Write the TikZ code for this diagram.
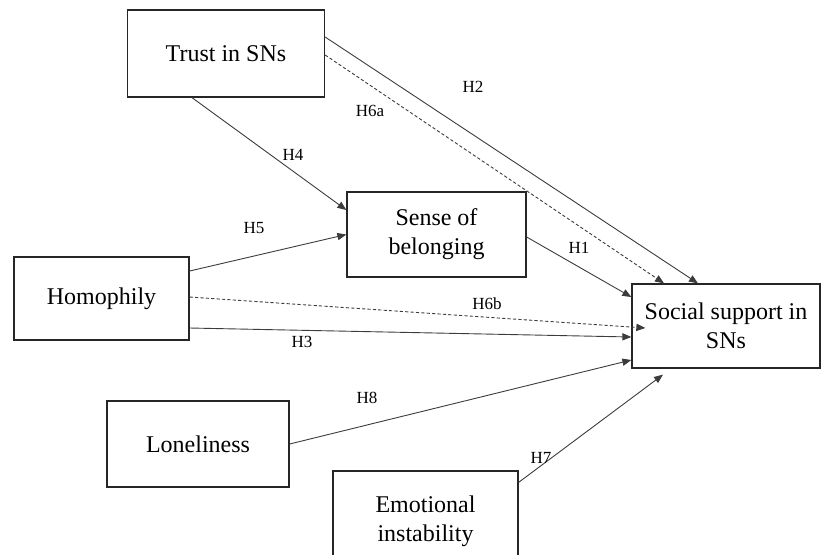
\documentclass[tikz,border=0pt]{standalone}
\usepackage{fontspec}
\setmainfont{Liberation Serif}
\usetikzlibrary{arrows.meta}
\definecolor{lineg}{RGB}{60,60,60}

\begin{document}
\begin{tikzpicture}[x=0.5pt, y=-0.5pt,
    var/.style={draw=black!85, line width=0.65pt, align=center, inner sep=0pt,
      font=\fontsize{12}{14.5}\selectfont},
    hyp/.style={-{Triangle[length=4.5pt,width=3.6pt]}, draw=lineg, line width=0.45pt},
    weak/.style={hyp, dash pattern=on 1.6pt off 1.1pt},
    lab/.style={font=\fontsize{8.5}{10}\selectfont, inner sep=0pt}]
  \useasboundingbox (0,0) rectangle (821,554);
  % constructs
  \node[var, minimum width=98.5pt, minimum height=43.5pt] (trust) at (226,53.5) {Trust in SNs};
  \node[var, minimum width=89.5pt, minimum height=42.5pt] (belong) at (436.5,234.5) {Sense of\\belonging};
  \node[var, minimum width=87.5pt, minimum height=41.5pt] (homo) at (101.5,298.5) {Homophily};
  \node[var, minimum width=94pt, minimum height=42pt] (support) at (726,326) {Social support in\\SNs};
  \node[var, minimum width=91pt, minimum height=43pt] (lonely) at (198,444) {Loneliness};
  \node[var, minimum width=92.5pt, minimum height=50pt] (emo) at (425.5,521) {Emotional\\instability};
  % paths
  \draw[hyp] ([yshift=8.25pt]trust.east) -- ([xshift=-14pt]support.north);
  \draw[weak] ([yshift=-0.75pt]trust.east) -- ([xshift=-31pt]support.north);
  \draw[hyp] ([xshift=-17pt]trust.south) -- ([yshift=12.25pt]belong.west);
  \draw[hyp] ([yshift=13.75pt]homo.east) -- (belong.west);
  \draw[hyp] ([yshift=-1.25pt]belong.east) -- ([yshift=14.5pt]support.west);
  \draw[weak] ([yshift=0.75pt]homo.east) -- ([xshift=7pt,yshift=-1pt]support.west);
  \draw[hyp] ([yshift=-14.75pt]homo.east) -- ([yshift=-5.5pt]support.west);
  \draw[hyp] (lonely.east) -- ([yshift=-17pt]support.west);
  \draw[hyp] ([yshift=-6pt]emo.north east) -- ([xshift=-31.5pt,yshift=-3pt]support.south);
  % hypothesis labels
  \node[lab] (h2) at (473,87) {H2};
  \node[lab] (h6a) at (370,111) {H6a};
  \node[lab] (h4) at (293,155) {H4};
  \node[lab] (h5) at (254,228) {H5};
  \node[lab] (h1) at (579,248) {H1};
  \node[lab] (h6b) at (487,304) {H6b};
  \node[lab] (h3) at (302,342) {H3};
  \node[lab] (h8) at (367,398) {H8};
  \node[lab] (h7) at (541,458) {H7};
\end{tikzpicture}
\end{document}
